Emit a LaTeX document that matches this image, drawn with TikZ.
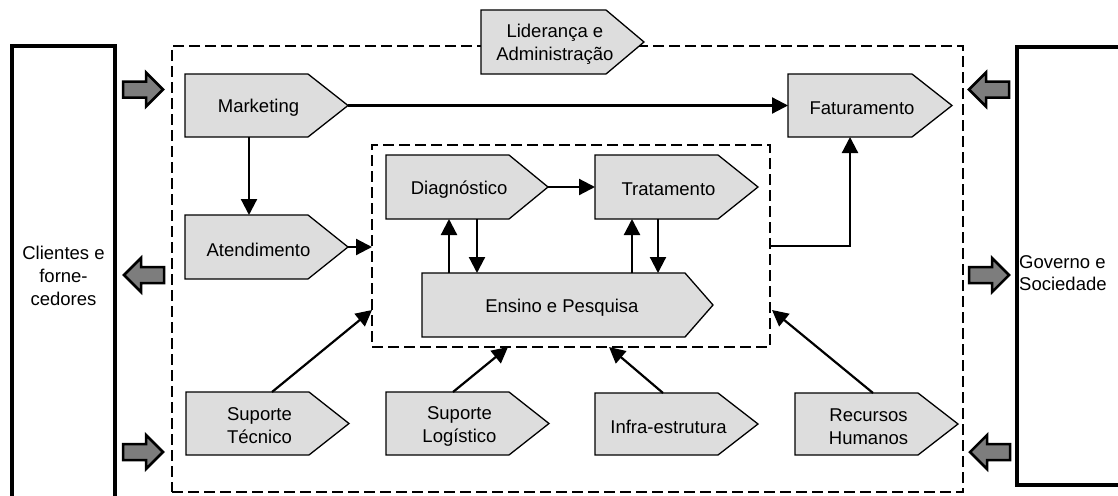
\documentclass[tikz,border=0pt]{standalone}
\usepackage{fontspec}
\setmainfont{Liberation Sans}
\usetikzlibrary{arrows.meta,calc}
\definecolor{pentgray}{RGB}{221,221,221}
\definecolor{arrowgray}{RGB}{125,125,125}
\tikzset{
 pbox/.style={inner sep=0pt, outer sep=0pt, draw=none},
 pentline/.style={draw=black, fill=pentgray, line width=1.3pt, line join=miter},
 plabel/.style={align=center, inner sep=1pt, font=\fontsize{18.5}{23}\selectfont},
 conn/.style={line width=2.2pt, -{Triangle[length=16pt,width=16pt]}},
 dashbox/.style={draw, line width=2.6pt, dash pattern=on 11pt off 5pt, inner sep=0pt, outer sep=0pt},
 thickbox/.style={draw, line width=3.5pt, inner sep=0pt, outer sep=0pt},
 garrow/.style={draw, line width=2.5pt, fill=arrowgray, line join=miter},
}
\newcommand{\mypent}[7]{%
 \node[pbox, minimum width=#4, minimum height=#5] (#1) at (#2,#3) {};
 \draw[pentline] (#1.north west) -- ([xshift=-#6]#1.north east) -- (#1.east) -- ([xshift=-#6]#1.south east) -- (#1.south west) -- cycle;
 \node[plabel] (#1-t) at ([xshift=-#6/5, yshift=-2.5]#1.center) {#7};}
\newcommand{\grayarr}[3]{%
 \draw[garrow, shift={(#1,#2)}, xscale=#3] (0,-8) -- (23,-8) -- (23,-17) -- (40,0) -- (23,17) -- (23,8) -- (0,8) -- cycle;}
\begin{document}
\begin{tikzpicture}[x=1pt,y=-1pt]
\useasboundingbox (0,0) rectangle (1118,495);
% side boxes
\node[thickbox, minimum width=103, minimum height=460, align=center, font=\fontsize{18.5}{23}\selectfont] (cli) at (63.5,276) {Clientes e\\forne-\\cedores};
\node[thickbox, minimum width=113, minimum height=438] (gov) at (1073.5,266) {};
\node[anchor=west, align=left, inner sep=1pt, font=\fontsize{18.5}{21.5}\selectfont] (gov-t) at (1018,273) {Governo e\\Sociedade};
% dashed boxes
\node[dashbox, minimum width=791, minimum height=446] (outer) at (567.5,269) {};
\node[dashbox, minimum width=398, minimum height=202] (inner) at (571,246) {};
% gray arrows
\grayarr{123}{89.5}{1}
\grayarr{164}{275}{-1}
\grayarr{123}{452}{1}
\grayarr{1009}{89.5}{-1}
\grayarr{969}{275}{1}
\grayarr{1010}{452}{-1}
% pentagons
\mypent{lid}{562.5}{42}{163}{64}{38}{Liderança e\\Administração}
\mypent{mk}{266.5}{105.5}{163}{63}{40}{Marketing}
\mypent{fat}{870}{105.5}{164}{63}{40}{Faturamento}
\mypent{at}{266.5}{247}{163}{64}{40}{Atendimento}
\mypent{diag}{467}{187}{162}{64}{39}{Diagnóstico}
\mypent{trat}{676.5}{187}{163}{64}{40}{Tratamento}
\mypent{ens}{567.5}{305}{291}{64}{28}{Ensino e Pesquisa}
\mypent{st}{267.5}{423.5}{163}{63}{40}{Suporte\\Técnico}
\mypent{sl}{467.5}{423.5}{163}{63}{40}{Suporte\\Logístico}
\mypent{inf}{676.5}{424}{163}{62}{40}{Infra-estrutura}
\mypent{rh}{876.5}{424}{163}{62}{40}{Recursos\\Humanos}
% connectors
\draw[conn] (mk.east) -- (fat.west);
\draw[conn] ($(mk.south)+(-17.5,0)$) -- ($(at.north)+(-17.5,0)$);
\draw[conn] (at.east) -- (at.east -| inner.west);
\draw[conn] (diag.east) -- (trat.west);
\draw[conn] ($(diag.south |- ens.north)+(-18,0)$) -- ($(diag.south)+(-18,0)$);
\draw[conn] ($(diag.south)+(10,0)$) -- ($(diag.south |- ens.north)+(10,0)$);
\draw[conn] ($(trat.south |- ens.north)+(-44.5,0)$) -- ($(trat.south)+(-44.5,0)$);
\draw[conn] ($(trat.south)+(-18.5,0)$) -- ($(trat.south |- ens.north)+(-18.5,0)$);
\draw[conn] (inner.east) -| ($(fat.south)+(-20,0)$);
\draw[conn] ($(st.north)+(4.5,0)$) -- ($(inner.south west)+(0,-37)$);
\draw[conn] ($(sl.north)+(-14.5,0)$) -- ($(inner.south)+(-63,0)$);
\draw[conn] ($(inf.north)+(-13.5,0)$) -- ($(inner.south)+(38,0)$);
\draw[conn] ($(rh.north)+(-3.5,0)$) -- ($(inner.south east)+(2,-37)$);
\end{tikzpicture}
\end{document}
